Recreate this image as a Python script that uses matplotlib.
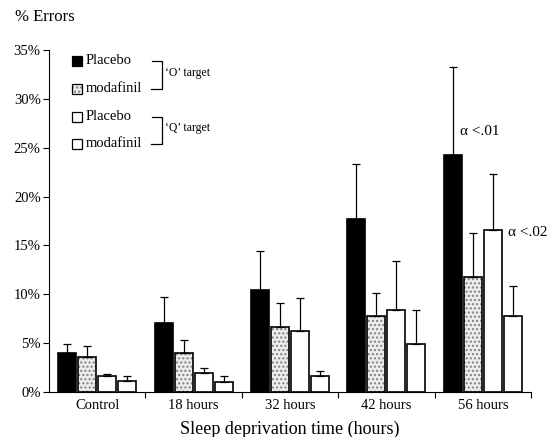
import matplotlib.pyplot as plt
from matplotlib.patches import Rectangle
from matplotlib.lines import Line2D
import numpy as np

plt.rcParams['font.family'] = ['Liberation Serif', 'DejaVu Serif']

# data (percent errors)
categories = ["Control", "18 hours", "32 hours", "42 hours", "56 hours"]
o_placebo = [4.0, 7.1, 10.4, 17.7, 24.3]
o_placebo_err = [0.9, 2.6, 4.0, 5.6, 9.0]
o_modafinil = [3.6, 3.95, 6.7, 7.8, 11.8]
o_modafinil_err = [1.1, 1.35, 2.4, 2.35, 4.5]
q_placebo = [1.6, 1.9, 6.2, 8.35, 16.6]
q_placebo_err = [0.25, 0.6, 3.4, 5.05, 5.7]
q_modafinil = [1.1, 1.05, 1.6, 4.9, 7.8]
q_modafinil_err = [0.5, 0.55, 0.55, 3.45, 3.05]
yticks = [0, 5, 10, 15, 20, 25, 30, 35]

fig = plt.figure(figsize=(5.58, 4.37), dpi=100)
ax = fig.add_axes([0.0878, 0.103, 0.8638, 0.7826])

x = np.arange(len(categories))
w = 0.187
step = 0.207
series = [
    (o_placebo, o_placebo_err, 'black', None),
    (o_modafinil, o_modafinil_err, 'white', '....'),
    (q_placebo, q_placebo_err, 'white', None),
    (q_modafinil, q_modafinil_err, 'white', None),
]
for i, (vals, errs, fc, hatch) in enumerate(series):
    pos = x + (i - 1.5) * step
    if hatch:
        ax.bar(pos, vals, w, color='#ececec', edgecolor='#808080', hatch=hatch, linewidth=0)
        ax.bar(pos, vals, w, fill=False, edgecolor='black', linewidth=1.2)
    else:
        ax.bar(pos, vals, w, color=fc, edgecolor='black', linewidth=1.2)
    ax.errorbar(pos, vals, yerr=[np.zeros(len(vals)), errs], fmt='none',
                ecolor='black', elinewidth=0.9, capsize=3, capthick=0.9)

ax.set_xlim(-0.5, 4.5)
ax.set_ylim(0, 35)
ax.set_yticks(yticks)
ax.set_yticklabels([f"{t}%" for t in yticks], fontsize=10.5)
ax.set_xticks(list(x + 0.5))
ax.set_xticklabels([])
ax.set_xticks(x, minor=True)
ax.set_xticklabels(categories, minor=True, fontsize=10.5)
ax.tick_params(axis='x', which='minor', length=0, pad=5)
ax.tick_params(axis='x', which='major', length=4, direction='out')
ax.tick_params(axis='y', length=4, direction='out', pad=2)
for s in ['top', 'right']:
    ax.spines[s].set_visible(False)
ax.set_xlabel("Sleep deprivation time (hours)", fontsize=13, labelpad=6)
fig.text(15 / 558, 1 - 17 / 437, "% Errors", fontsize=12, va='center', ha='left')

# significance notes
ax.text(4 - 1.5 * step + 0.07, 26.7, "α <.01", fontsize=11, va='center', ha='left')
ax.text(4 + 0.5 * step + 0.16, 16.3, "α <.02", fontsize=11, va='center', ha='left')

# hand-made legend with brackets (axes fraction)
def fx(px):
    return (px - 49) / 482

def fy(py):
    return (392 - py) / 342

rows = [61, 89, 117, 144]
labels = ["Placebo", "modafinil", "Placebo", "modafinil"]
for r, lab, (_, _, fc, hatch) in zip(rows, labels, series):
    if hatch:
        ax.add_patch(Rectangle((fx(72), fy(r + 5)), 10 / 482, 10 / 342, transform=ax.transAxes,
                               facecolor='#ececec', edgecolor='#808080', hatch=hatch,
                               linewidth=0, clip_on=False))
        ax.add_patch(Rectangle((fx(72), fy(r + 5)), 10 / 482, 10 / 342, transform=ax.transAxes,
                               fill=False, edgecolor='black', linewidth=0.9, clip_on=False))
    else:
        ax.add_patch(Rectangle((fx(72), fy(r + 5)), 10 / 482, 10 / 342, transform=ax.transAxes,
                               facecolor=fc, edgecolor='black', linewidth=0.9, clip_on=False))
    ax.text(fx(86), fy(r), lab, transform=ax.transAxes, fontsize=10.5, va='center', ha='left')

for (top, bot), lab in zip([(61, 89), (117, 144)], ["‘O’ target", "‘Q’ target"]):
    ax.add_line(Line2D([fx(152), fx(162), fx(162), fx(151)],
                       [fy(top), fy(top), fy(bot), fy(bot)],
                       transform=ax.transAxes, color='black', linewidth=0.9, clip_on=False))
    ax.text(fx(165), fy((top + bot) / 2 - 2), lab, transform=ax.transAxes,
            fontsize=8.5, va='center', ha='left')

fig.savefig("out.png", dpi=100)
